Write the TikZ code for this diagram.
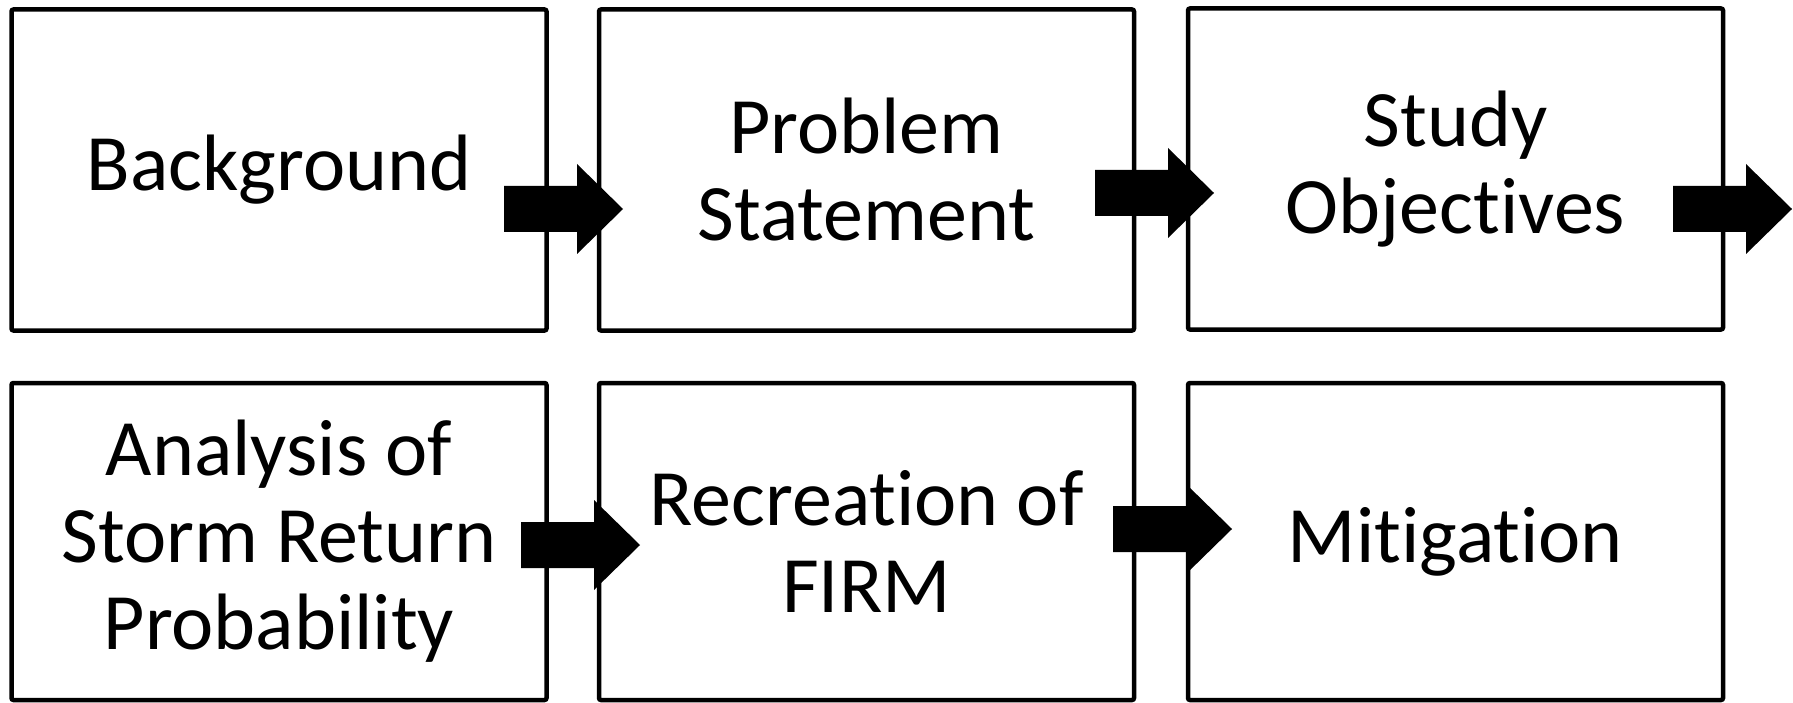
\documentclass[tikz,border=0pt]{standalone}
\usepackage{fontspec}
\setmainfont{Carlito}[Ligatures={NoCommon,NoContextual}]
\begin{document}
\begin{tikzpicture}[x=1pt,y=-1pt,
  box/.style={draw=black,line width=4.5pt,rounded corners=2pt,minimum width=535pt,inner sep=0pt,align=center,font=\fontsize{80}{87}\selectfont},
  toprow/.style={box,minimum height=321pt},
  botrow/.style={box,minimum height=317pt},
  blockarrow/.pic={\fill[black] (0,-23) -- (73,-23) -- (73,-45) -- (119,0) -- (73,45) -- (73,23) -- (0,23) -- cycle;}]
\useasboundingbox (0,0) rectangle (1793,703);
\node[toprow] (b1) at (279,170) {Background};
\node[toprow] (b2) at (866.5,170) {Problem\\Statement};
\node[toprow] (b3) at (1455.5,169) {Study\\Objectives};
\node[botrow] (b4) at (279,541.5) {Analysis of\\Storm Return\\Probability};
\node[botrow] (b5) at (866.5,541.5) {Recreation of\\FIRM};
\node[botrow] (b6) at (1455.5,541.5) {Mitigation};
\pic at (504,209) {blockarrow};
\pic at (1095,193) {blockarrow};
\pic at (1673,209) {blockarrow};
\pic at (521,545) {blockarrow};
\pic at (1113,529) {blockarrow};
\end{tikzpicture}
\end{document}
